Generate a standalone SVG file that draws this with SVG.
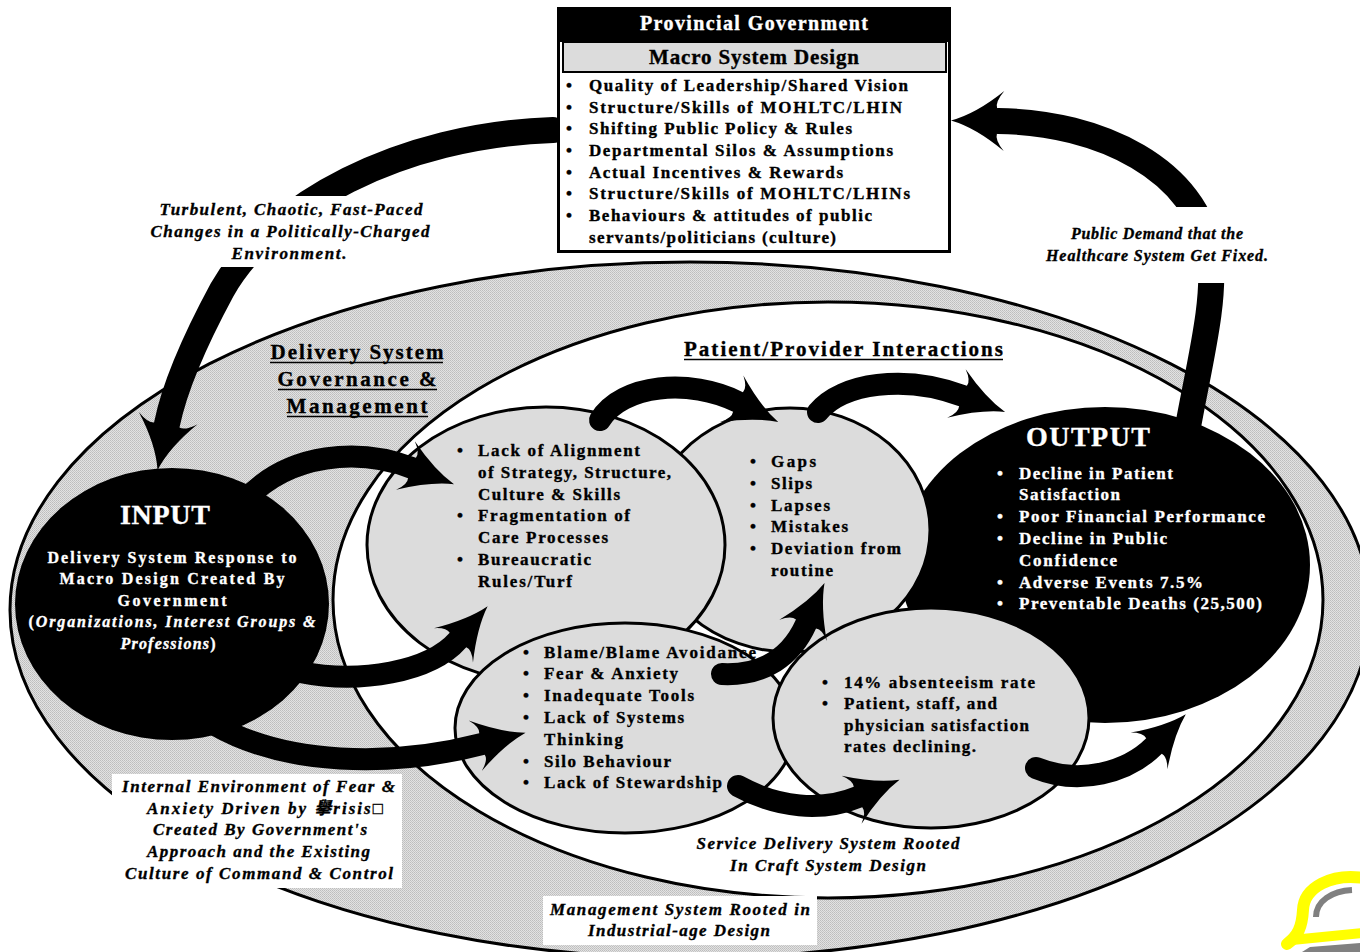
<svg xmlns="http://www.w3.org/2000/svg" width="1360" height="952" viewBox="0 0 1360 952">
<defs>
<style>
.ser{font-family:"Liberation Serif","Times New Roman","Noto Sans CJK JP",serif;font-weight:bold}
.it{font-style:italic}
.f17{font-size:17px}
.f16{font-size:16px}
.f21{font-size:21px}
.f27{font-size:28px}
.wt{fill:#fff;stroke:#fff;stroke-width:0.35}
.bk{fill:#000;stroke:#000;stroke-width:0.35}
.mid{text-anchor:middle}
.uline{stroke:#000;stroke-width:1.6}
.ell{stroke:#000;stroke-width:3}
.lg{fill:#dcdcdc}
.arr{fill:none;stroke:#000;stroke-linecap:round}
.big{stroke-width:26;marker-end:url(#headL)}
.sm{stroke-width:22;marker-end:url(#headS)}
</style>
<pattern id="hatch" width="2" height="2" patternUnits="userSpaceOnUse">
<rect width="2" height="2" fill="#e2e2e2"/>
<rect width="1" height="1" fill="#bdbdbd"/>
<rect x="1" y="1" width="1" height="1" fill="#c6c6c6"/>
</pattern>
<marker id="headL" markerUnits="userSpaceOnUse" orient="auto" overflow="visible" markerWidth="10" markerHeight="10" refX="0" refY="0">
<path d="M47,0 Q22,-7 -6,-30 Q3,-19 1,-13 L1,13 Q3,19 -6,30 Q22,7 47,0 Z" fill="#000"/>
</marker>
<marker id="headS" markerUnits="userSpaceOnUse" orient="auto" overflow="visible" markerWidth="10" markerHeight="10" refX="0" refY="0">
<path d="M45,0 Q22,-6 -7,-26 Q2,-17 0,-11 L0,11 Q2,17 -7,26 Q22,6 45,0 Z" fill="#000"/>
</marker>
</defs>

<rect width="1360" height="952" fill="#fff"/>

<g id="management-system">
<ellipse cx="690" cy="610" rx="680" ry="348" fill="url(#hatch)" class="ell"/>
<g class="ser f21 mid bk">
<text x="357" y="359" textLength="173">Delivery System</text>
<text x="357" y="386" textLength="159">Governance &amp;</text>
<text x="357" y="413" textLength="141">Management</text>
</g>
<line class="uline" x1="270" y1="362.5" x2="443" y2="362.5"/>
<line class="uline" x1="278" y1="389.5" x2="437" y2="389.5"/>
<line class="uline" x1="287" y1="416.5" x2="428" y2="416.5"/>
</g>

<g id="service-delivery">
<ellipse cx="828" cy="600" rx="495" ry="298" fill="#fff" class="ell"/>
<text x="843.5" y="356" class="ser f21 mid bk" textLength="319">Patient/Provider Interactions</text>
<line class="uline" x1="684" y1="359.5" x2="1003" y2="359.5"/>
<g class="ser it f17 mid bk">
<text x="828" y="849" textLength="263">Service Delivery System Rooted</text>
<text x="828" y="871" textLength="196">In Craft System Design</text>
</g>
</g>

<g id="output">
<ellipse cx="1105" cy="565" rx="205" ry="158" fill="#000"/>
<text x="1088" y="446" class="ser f27 mid wt" textLength="124">OUTPUT</text>
<g class="ser f17 wt">
<text x="997" y="479">•</text>
<text x="997" y="522">•</text>
<text x="997" y="544">•</text>
<text x="997" y="588">•</text>
<text x="997" y="609">•</text>
<text x="1019" y="479" textLength="154">Decline in Patient</text>
<text x="1019" y="500" textLength="101">Satisfaction</text>
<text x="1019" y="522" textLength="246">Poor Financial Performance</text>
<text x="1019" y="544" textLength="148">Decline in Public</text>
<text x="1019" y="566" textLength="98">Confidence</text>
<text x="1019" y="588" textLength="184">Adverse Events 7.5%</text>
<text x="1019" y="609" textLength="243">Preventable Deaths (25,500)</text>
</g>
</g>

<g id="input">
<ellipse cx="172" cy="604" rx="157" ry="136" fill="#000"/>
<text x="165" y="524" class="ser f27 mid wt" textLength="90">INPUT</text>
<g class="ser f16 mid wt">
<text x="172" y="563" textLength="249">Delivery System Response to</text>
<text x="172" y="584" textLength="225">Macro Design Created By</text>
<text x="172" y="606" textLength="109">Government</text>
<text x="172" y="627" textLength="287">(<tspan class="it">Organizations, Interest Groups &amp;</tspan></text>
<text x="168" y="649" textLength="95"><tspan class="it">Professions</tspan>)</text>
</g>
</g>

<g id="errors">
<ellipse cx="790" cy="530" rx="140" ry="122" class="ell lg"/>
<g class="ser f17 bk">
<text x="750" y="467">•</text>
<text x="750" y="489">•</text>
<text x="750" y="511">•</text>
<text x="750" y="532">•</text>
<text x="750" y="554">•</text>
<text x="771" y="467" textLength="45">Gaps</text>
<text x="771" y="489" textLength="41">Slips</text>
<text x="771" y="511" textLength="59">Lapses</text>
<text x="771" y="532" textLength="77">Mistakes</text>
<text x="771" y="554" textLength="130">Deviation from</text>
<text x="771" y="576" textLength="62">routine</text>
</g>
</g>

<g id="alignment">
<ellipse cx="546" cy="545" rx="179" ry="138" class="ell lg"/>
<g class="ser f17 bk">
<text x="457" y="456">•</text>
<text x="457" y="521">•</text>
<text x="457" y="565">•</text>
<text x="478" y="456" textLength="162">Lack of Alignment</text>
<text x="478" y="478" textLength="193">of Strategy, Structure,</text>
<text x="478" y="500" textLength="142">Culture &amp; Skills</text>
<text x="478" y="521" textLength="152">Fragmentation of</text>
<text x="478" y="543" textLength="130">Care Processes</text>
<text x="478" y="565" textLength="113">Bureaucratic</text>
<text x="478" y="587" textLength="94">Rules/Turf</text>
</g>
</g>

<g id="culture">
<ellipse cx="625" cy="728" rx="170" ry="105" class="ell lg"/>
<g class="ser f17 bk">
<text x="523" y="658">•</text>
<text x="523" y="679">•</text>
<text x="523" y="701">•</text>
<text x="523" y="723">•</text>
<text x="523" y="767">•</text>
<text x="523" y="788">•</text>
<text x="544" y="658" textLength="212">Blame/Blame Avoidance</text>
<text x="544" y="679" textLength="134">Fear &amp; Anxiety</text>
<text x="544" y="701" textLength="150">Inadequate Tools</text>
<text x="544" y="723" textLength="140">Lack of Systems</text>
<text x="544" y="745" textLength="79">Thinking</text>
<text x="544" y="767" textLength="127">Silo Behaviour</text>
<text x="544" y="788" textLength="178">Lack of Stewardship</text>
</g>
</g>

<g id="staff">
<ellipse cx="931" cy="718" rx="158" ry="110" class="ell lg"/>
<g class="ser f17 bk">
<text x="822" y="688">•</text>
<text x="822" y="709">•</text>
<text x="844" y="688" textLength="191">14% absenteeism rate</text>
<text x="844" y="709" textLength="153">Patient, staff, and</text>
<text x="844" y="731" textLength="185">physician satisfaction</text>
<text x="844" y="752" textLength="132">rates declining.</text>
</g>
</g>

<g id="connectors">
<path class="arr big" d="M553,130 C400,135 270,205 222,290 C195,340 175,385 167,424"/>
<path class="arr big" d="M1187,432 C1200,360 1216,300 1210,255 C1198,170 1100,122 998,121"/>
<path class="arr sm" d="M245,500 C290,452 360,448 412,468"/>
<path class="arr sm" d="M300,672 C360,684 430,672 458,640"/>
<path class="arr sm" d="M215,725 C285,765 390,768 482,744"/>
<path class="arr sm" d="M600,420 C622,384 690,378 738,402"/>
<path class="arr sm" d="M818,412 C842,383 905,374 963,396"/>
<path class="arr sm" d="M722,674 C765,676 792,655 806,624"/>
<path class="arr sm" d="M738,786 C778,808 822,812 858,797"/>
<path class="arr sm" d="M1036,768 C1080,786 1128,772 1154,746"/>
</g>

<g id="provincial-government">
<rect x="558.5" y="8.5" width="391" height="243" fill="#fff" stroke="#000" stroke-width="3"/>
<rect x="557" y="7" width="394" height="35" fill="#000"/>
<rect x="563" y="42" width="383" height="30" fill="#dcdcdc" stroke="#000" stroke-width="2"/>
<text x="754" y="30" class="ser mid wt" font-size="20" textLength="228">Provincial Government</text>
<text x="754" y="64" class="ser f21 mid bk" textLength="210">Macro System Design</text>
<g class="ser f17 bk">
<text x="566" y="91">•</text>
<text x="566" y="112.5">•</text>
<text x="566" y="134">•</text>
<text x="566" y="156">•</text>
<text x="566" y="177.5">•</text>
<text x="566" y="199">•</text>
<text x="566" y="221">•</text>
<text x="589" y="91" textLength="319">Quality of Leadership/Shared Vision</text>
<text x="589" y="112.5" textLength="313">Structure/Skills of MOHLTC/LHIN</text>
<text x="589" y="134" textLength="263">Shifting Public Policy &amp; Rules</text>
<text x="589" y="156" textLength="304">Departmental Silos &amp; Assumptions</text>
<text x="589" y="177.5" textLength="254">Actual Incentives &amp; Rewards</text>
<text x="589" y="199" textLength="321">Structure/Skills of MOHLTC/LHINs</text>
<text x="589" y="221" textLength="283">Behaviours &amp; attitudes of public</text>
<text x="589" y="242.5" textLength="247">servants/politicians (culture)</text>
</g>
</g>

<g id="label-turbulent">
<rect x="148" y="196" width="285" height="71" fill="#fff"/>
<g class="ser it f17 mid bk">
<text x="291" y="215" textLength="263">Turbulent, Chaotic, Fast-Paced</text>
<text x="290" y="237" textLength="279">Changes in a Politically-Charged</text>
<text x="289" y="258.5" textLength="115">Environment.</text>
</g>
</g>

<g id="label-public-demand">
<rect x="1040" y="207" width="235" height="76" fill="#fff"/>
<g class="ser it f16 mid bk">
<text x="1157" y="239" textLength="172">Public Demand that the</text>
<text x="1157" y="261" textLength="222">Healthcare System Get Fixed.</text>
</g>
</g>

<g id="label-internal">
<rect x="112" y="774" width="290" height="114" fill="#fff"/>
<g class="ser it f17 bk">
<text x="258.5" y="792" class="mid" textLength="273">Internal Environment of Fear &amp;</text>
<text x="147" y="813.5" textLength="236">Anxiety Driven by 擧risis□</text>
<text x="260" y="835" class="mid" textLength="214">Created By Government's</text>
<text x="258.5" y="857" class="mid" textLength="223">Approach and the Existing</text>
<text x="259" y="878.5" class="mid" textLength="268">Culture of Command &amp; Control</text>
</g>
</g>

<g id="label-management">
<rect x="543" y="896" width="274" height="49" fill="#fff"/>
<g class="ser it f17 mid bk">
<text x="680" y="914.5" textLength="260">Management System Rooted in</text>
<text x="679" y="935.5" textLength="182">Industrial-age Design</text>
</g>
</g>

<g id="corner-mark">
<path d="M1364,878 C1332,873 1304,887 1303,910 C1302,927 1298,936 1287,944" fill="none" stroke="#ffff00" stroke-width="12" stroke-linecap="round"/>
<path d="M1292,940 L1362,933" fill="none" stroke="#ffff00" stroke-width="10" stroke-linecap="round"/>
<path d="M1352,890 C1332,891 1316,901 1316,917" fill="none" stroke="#808080" stroke-width="6"/>
<path d="M1302,952 L1310,947 L1360,943 L1360,952 Z" fill="#808080"/>
</g>
</svg>
